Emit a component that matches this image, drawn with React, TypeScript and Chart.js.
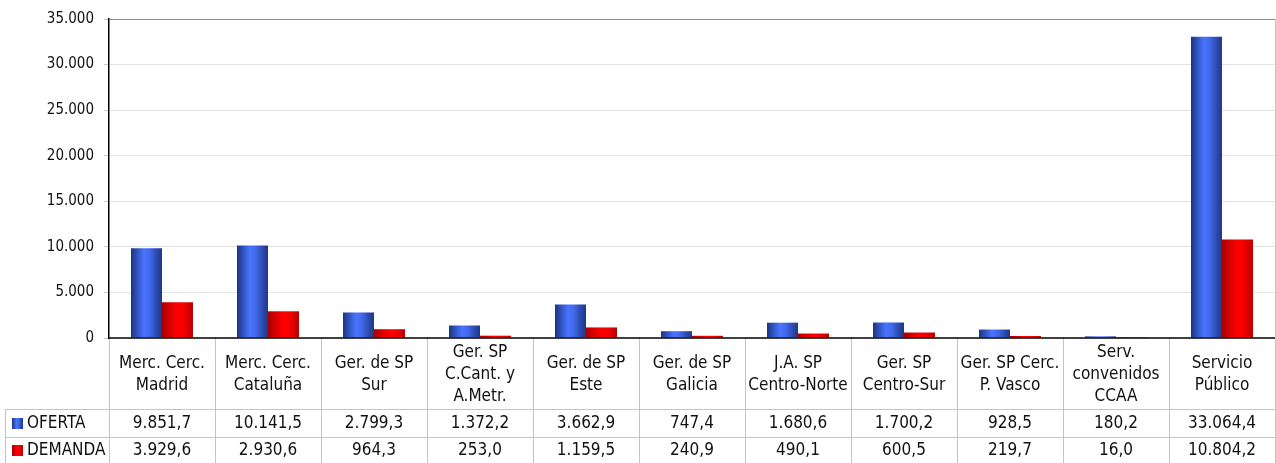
import React, { useEffect, useRef } from "react";
import { Chart, registerables } from "chart.js";

Chart.register(...registerables);

const categories: string[][] = [
  ["Merc. Cerc.", "Madrid"],
  ["Merc. Cerc.", "Cataluña"],
  ["Ger. de SP", "Sur"],
  ["Ger. SP", "C.Cant. y", "A.Metr."],
  ["Ger. de SP", "Este"],
  ["Ger. de SP", "Galicia"],
  ["J.A. SP", "Centro-Norte"],
  ["Ger. SP", "Centro-Sur"],
  ["Ger. SP Cerc.", "P. Vasco"],
  ["Serv.", "convenidos", "CCAA"],
  ["Servicio", "Público"],
];
const seriesNames = ["OFERTA", "DEMANDA"];
const oferta = [9851.7, 10141.5, 2799.3, 1372.2, 3662.9, 747.4, 1680.6, 1700.2, 928.5, 180.2, 33064.4];
const demanda = [3929.6, 2930.6, 964.3, 253.0, 1159.5, 240.9, 490.1, 600.5, 219.7, 16.0, 10804.2];
const yTicks = [0, 5000, 10000, 15000, 20000, 25000, 30000, 35000];

const W = 1276;
const H = 463;
const FONT = "'DejaVu Sans Condensed', 'DejaVu Sans', sans-serif";
const CAT_PCT = 0.585;

function fmtThousands(n: number): string {
  const s = Math.round(n).toString();
  return s.replace(/\B(?=(\d{3})+(?!\d))/g, ".");
}
function fmtValue(n: number): string {
  const fixed = n.toFixed(1);
  const [i, d] = fixed.split(".");
  return fmtThousands(parseInt(i, 10)) + "," + d;
}

const blueStops: [number, string][] = [
  [0, "#1c3380"],
  [0.15, "#2a4cb0"],
  [0.42, "#4a74ff"],
  [0.6, "#4169ec"],
  [0.85, "#2a48a8"],
  [1, "#1f3788"],
];
const redStops: [number, string][] = [
  [0, "#a80000"],
  [0.2, "#d00000"],
  [0.5, "#ff0000"],
  [0.7, "#f40000"],
  [1, "#b80000"],
];

function makeGradient(c: any, ds: number) {
  const chart = c.chart;
  const stops = ds === 0 ? blueStops : redStops;
  const area = chart.chartArea;
  const xs = chart.scales && chart.scales.x;
  if (!area || !xs || c.type !== "data") return stops[2][1];
  const cw = (area.right - area.left) / categories.length;
  const bw = (cw * CAT_PCT) / 2;
  const center = xs.getPixelForValue(c.dataIndex);
  const x0 = ds === 0 ? center - bw : center;
  const g = chart.ctx.createLinearGradient(x0, 0, x0 + bw, 0);
  stops.forEach(([p, col]) => g.addColorStop(p, col));
  return g;
}

const tablePlugin = {
  id: "dataTable",
  afterDraw(chart: any) {
    const ctx = chart.ctx as CanvasRenderingContext2D;
    const { left, right, top, bottom } = chart.chartArea;
    const n = categories.length;
    const cw = (right - left) / n;
    const row1 = 409;
    const row2 = 437;
    const tableLeft = 5;
    ctx.save();
    // table grid
    ctx.strokeStyle = "#c4c4c4";
    ctx.lineWidth = 1;
    ctx.beginPath();
    for (let k = 0; k <= n; k++) {
      const x = Math.round(left + k * cw) + 0.5;
      ctx.moveTo(x, k === n ? top : bottom);
      ctx.lineTo(x, H);
    }
    ctx.moveTo(tableLeft + 0.5, row1);
    ctx.lineTo(tableLeft + 0.5, H);
    ctx.moveTo(tableLeft, row1 + 0.5);
    ctx.lineTo(right, row1 + 0.5);
    ctx.moveTo(tableLeft, row2 + 0.5);
    ctx.lineTo(right, row2 + 0.5);
    ctx.stroke();

    // zero line
    ctx.strokeStyle = "#000";
    ctx.lineWidth = 1.5;
    ctx.beginPath();
    ctx.moveTo(left, Math.round(bottom));
    ctx.lineTo(right, Math.round(bottom));
    ctx.stroke();

    // category labels
    ctx.fillStyle = "#111";
    ctx.font = `17px ${FONT}`;
    ctx.textAlign = "center";
    ctx.textBaseline = "middle";
    const lh = 22;
    const mid = (bottom + row1) / 2 + 1;
    categories.forEach((lines, i) => {
      const cx = left + (i + 0.5) * cw;
      const y0 = mid - ((lines.length - 1) * lh) / 2;
      lines.forEach((t, j) => ctx.fillText(t, cx, y0 + j * lh));
    });
    // values
    const rows = [oferta, demanda];
    const rowMid = [(row1 + row2) / 2 + 1, (row2 + H) / 2 + 1];
    rows.forEach((vals, r) => {
      vals.forEach((v, i) => {
        const cx = left + (i + 0.5) * cw;
        ctx.fillText(fmtValue(v), cx, rowMid[r]);
      });
    });
    // legend keys
    ctx.textAlign = "left";
    seriesNames.forEach((name, r) => {
      const ky = rowMid[r] - 6;
      const g = ctx.createLinearGradient(12, 0, 23, 0);
      (r === 0 ? blueStops : redStops).forEach(([p, col]) => g.addColorStop(p, col));
      ctx.fillStyle = g;
      ctx.fillRect(12, ky, 11, 11);
      ctx.fillStyle = "#111";
      ctx.fillText(name, 27, rowMid[r]);
    });
    ctx.restore();
  },
};

export default function App() {
  const ref = useRef<HTMLCanvasElement | null>(null);
  useEffect(() => {
    if (!ref.current) return;
    const chart = new Chart(ref.current, {
      type: "bar",
      data: {
        labels: categories.map((c) => c.join(" ")),
        datasets: [
          {
            label: seriesNames[0],
            data: oferta,
            backgroundColor: (c: any) => makeGradient(c, 0),
            barPercentage: 1,
            categoryPercentage: CAT_PCT,
          },
          {
            label: seriesNames[1],
            data: demanda,
            backgroundColor: (c: any) => makeGradient(c, 1),
            barPercentage: 1,
            categoryPercentage: CAT_PCT,
          },
        ],
      },
      options: {
        responsive: false,
        animation: false,
        devicePixelRatio: 1,
        layout: { padding: { left: 0, top: 18, right: 1, bottom: H - 338 } },
        plugins: { legend: { display: false }, tooltip: { enabled: false } },
        scales: {
          x: { display: false },
          y: {
            min: 0,
            max: 35000,
            afterFit: (s: any) => {
              s.width = 109;
            },
            afterBuildTicks: (s: any) => {
              s.ticks = yTicks.map((v) => ({ value: v }));
            },
            ticks: {
              font: { family: FONT, size: 15 },
              color: "#111",
              padding: 10,
              callback: (v: any) => fmtThousands(Number(v)),
            },
            grid: {
              color: (c: any) =>
                c.tick && c.tick.value === 35000
                  ? "#8c8c8c"
                  : c.tick && c.tick.value === 0
                  ? "rgba(0,0,0,0)"
                  : "#e2e2e2",
              tickColor: "#c8c8c8",
              tickLength: 5,
              lineWidth: 1,
            },
            border: { color: "#000", width: 1.5 },
          },
        },
      },
      plugins: [tablePlugin],
    });
    return () => chart.destroy();
  }, []);
  return (
    <div style={{ position: "absolute", left: 0, top: 0, width: W, height: H, background: "#fff" }}>
      <canvas ref={ref} width={W} height={H} style={{ display: "block" }} />
    </div>
  );
}
